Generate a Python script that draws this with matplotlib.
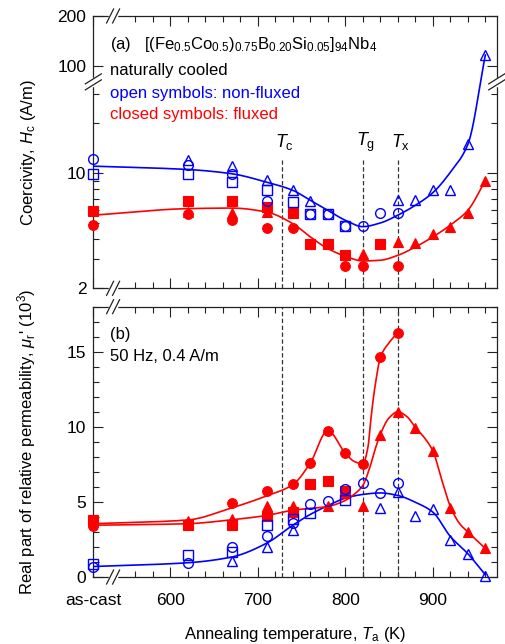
import numpy as np
import matplotlib
matplotlib.use('Agg')
import matplotlib.pyplot as plt
import matplotlib.transforms as mtransforms

plt.rcParams['font.family'] = ['Liberation Sans', 'DejaVu Sans']
plt.rcParams['mathtext.fontset'] = 'custom'
plt.rcParams['mathtext.rm'] = 'Liberation Sans'
plt.rcParams['mathtext.it'] = 'Liberation Sans:italic'
plt.rcParams['mathtext.bf'] = 'Liberation Sans:bold'

AS_CAST = 512   # position of the as-cast samples on the temperature axis

# ---------------- (a) coercivity Hc (A/m) ----------------
hc_nf_circ_x = [AS_CAST, 620, 670, 710, 760, 780, 800, 820, 840, 860]
hc_nf_circ_y = [12.2, 11.2, 9.8, 6.8, 5.67, 5.67, 4.76, 4.76, 5.73, 5.73]
hc_nf_sq_x = [AS_CAST, 620, 670, 710, 740, 760, 780, 800]
hc_nf_sq_y = [9.9, 9.8, 8.8, 7.85, 6.7, 5.67, 5.67, 4.76]
hc_nf_tri_x = [620, 670, 710, 740, 760, 860, 880, 900, 920, 940, 960]
hc_nf_tri_y = [12.05, 11.0, 9.1, 7.85, 6.77, 6.83, 6.83, 7.85, 7.85, 14.9, 116]

hc_f_sq_x = [AS_CAST, 620, 670, 710, 740, 760, 780, 800, 840]
hc_f_sq_y = [5.89, 6.74, 6.74, 6.22, 5.73, 3.7, 3.7, 3.2, 3.7]
hc_f_circ_x = [AS_CAST, 620, 670, 710, 740, 800, 820, 840, 860]
hc_f_circ_y = [4.83, 5.67, 5.17, 4.67, 4.67, 2.72, 2.72, 3.7, 2.72]
hc_f_tri_x = [620, 670, 710, 820, 860, 880, 900, 920, 940, 960]
hc_f_tri_y = [5.8, 5.73, 5.8, 3.25, 3.82, 3.75, 4.25, 4.73, 5.75, 9.0]

# guide curves (knots)
hc_nf_fit_x = [AS_CAST, 620, 670, 710, 740, 760, 780, 800, 820, 840, 860, 880, 900, 920, 940, 960]
hc_nf_fit_y = [11.0, 10.5, 9.9, 8.8, 7.85, 6.83, 5.94, 5.17, 4.73, 4.98, 5.55, 6.37, 7.6, 10.1, 14.9, 116]
hc_f_fit_x = [AS_CAST, 620, 670, 710, 740, 760, 780, 800, 820, 840, 860, 880, 900, 920, 940, 960]
hc_f_fit_y = [5.55, 6.08, 6.13, 5.8, 4.93, 4.1, 3.48, 3.13, 2.93, 2.96, 3.17, 3.56, 4.1, 4.83, 5.94, 9.0]

# ---------------- (b) permeability mu_r' (10^3) ----------------
mu_f_circ_x = [AS_CAST, 670, 710, 740, 760, 780, 800, 820, 840, 860]
mu_f_circ_y = [3.43, 4.9, 5.7, 6.2, 7.6, 9.75, 8.24, 7.53, 14.62, 16.28]
mu_f_tri_x = [620, 670, 710, 740, 780, 800, 820, 840, 860, 880, 900, 920, 940, 960]
mu_f_tri_y = [3.7, 3.88, 4.75, 4.7, 4.75, 5.6, 4.75, 9.48, 10.96, 9.9, 8.4, 4.6, 3.0, 1.9]
mu_f_sq_x = [AS_CAST, 620, 670, 710, 740, 760, 780, 800]
mu_f_sq_y = [3.8, 3.45, 3.45, 4.05, 4.3, 6.2, 6.42, 5.75]

mu_nf_circ_x = [AS_CAST, 620, 670, 710, 740, 760, 780, 800, 820, 840, 860]
mu_nf_circ_y = [0.67, 0.93, 2.0, 2.75, 3.6, 4.83, 5.05, 5.87, 6.27, 5.58, 6.29]
mu_nf_sq_x = [AS_CAST, 620, 670, 710, 740, 760, 800]
mu_nf_sq_y = [0.89, 1.44, 1.66, 3.45, 3.88, 4.25, 5.14]
mu_nf_tri_x = [670, 710, 740, 840, 860, 880, 900, 920, 940, 960]
mu_nf_tri_y = [1.1, 2.0, 3.1, 4.61, 5.65, 4.03, 4.54, 2.48, 1.55, 0.1]

mu_nf_fit_x = [AS_CAST, 620, 670, 710, 740, 760, 780, 800, 820, 840, 860, 880, 900, 920, 940, 960]
mu_nf_fit_y = [0.7, 0.95, 1.33, 2.25, 3.45, 4.17, 4.75, 5.25, 5.5, 5.6, 5.43, 4.98, 4.32, 2.7, 1.55, 0.15]
mu_f1_fit_x = [AS_CAST, 620, 670, 710, 740, 760, 780, 800, 810, 820, 826, 829, 832, 835, 840, 850, 860]
mu_f1_fit_y = [3.55, 3.8, 4.6, 5.4, 6.15, 7.6, 9.75, 8.24, 7.7, 7.53, 8.7, 10.4, 11.9, 13.1, 14.62, 15.6, 16.28]
mu_f2_fit_x = [AS_CAST, 620, 670, 710, 740, 780, 800, 810, 820, 828, 834, 840, 850, 860, 870, 880, 890, 900, 910, 920, 930, 940, 950, 960]
mu_f2_fit_y = [3.45, 3.55, 3.81, 4.1, 4.45, 4.7, 5.1, 5.5, 6.1, 7.3, 8.5, 9.5, 10.6, 11.0, 10.7, 9.97, 9.3, 8.4, 6.5, 4.7, 3.6, 3.0, 2.45, 1.9]

T_marks = [728, 820, 860]
T_names = [r'$T_{\rm c}$', r'$T_{\rm g}$', r'$T_{\rm x}$']

BLUE = '#0000ff'
RED = '#ff0000'

# broken log axis for Hc: the range LO..LO*10^S is cut out
LO, S, EPS = 35.6, 0.35, 0.002
LLO = np.log10(LO)


def fwd(v):
    lv = np.log10(np.clip(np.asarray(v, float), 1e-6, None))
    return np.where(lv <= LLO, lv,
                    np.where(lv <= LLO + S, LLO + EPS * (lv - LLO), lv - S * (1 - EPS)))


def inv(f):
    f = np.asarray(f, float)
    mid = LLO + np.clip((f - LLO) / EPS, 0, S)
    return 10 ** np.where(f <= LLO, f, np.where(f <= LLO + EPS * S, mid, f + S * (1 - EPS)))


def pchip(x, y, xn):
    x = np.asarray(x, float)
    y = np.asarray(y, float)
    h = np.diff(x)
    d = np.diff(y) / h
    m = np.zeros_like(y)
    for k in range(1, len(x) - 1):
        if d[k - 1] * d[k] > 0:
            w1 = 2 * h[k] + h[k - 1]
            w2 = h[k] + 2 * h[k - 1]
            m[k] = (w1 + w2) / (w1 / d[k - 1] + w2 / d[k])
    m[0] = d[0]
    m[-1] = d[-1]
    i = np.clip(np.searchsorted(x, xn) - 1, 0, len(h) - 1)
    t = (xn - x[i]) / h[i]
    return ((2 * t**3 - 3 * t**2 + 1) * y[i] + (t**3 - 2 * t**2 + t) * h[i] * m[i]
            + (-2 * t**3 + 3 * t**2) * y[i + 1] + (t**3 - t**2) * h[i] * m[i + 1])


FW, FH = 505, 644
fig = plt.figure(figsize=(FW / 100, FH / 100), dpi=100)
ax1 = fig.add_axes([0.1848, 0.5523, 0.7988, 0.4229])
ax2 = fig.add_axes([0.1848, 0.1040, 0.7988, 0.4198])


def brk_h(ax, xa, ya):
    pos = ax.get_position()
    W, H = pos.width * FW, pos.height * FH
    kw = dict(transform=ax.transAxes, clip_on=False, zorder=6)
    ax.plot([xa - 3 / W, xa + 3 / W], [ya, ya], color='white', lw=2.5, **kw)
    for s in (-3, 3):
        ax.plot([xa + (s - 3.5) / W, xa + (s + 3.5) / W], [ya - 7 / H, ya + 7 / H], color='#222222', lw=0.9, **kw)


def brk_v(ax, xa, ya):
    pos = ax.get_position()
    W, H = pos.width * FW, pos.height * FH
    kw = dict(transform=ax.transAxes, clip_on=False, zorder=6)
    ax.plot([xa, xa], [ya - 3 / H, ya + 3 / H], color='white', lw=2.5, **kw)
    for s in (-3, 3):
        ax.plot([xa - 8 / W, xa + 8 / W], [ya + (s - 5) / H, ya + (s + 5) / H], color='#222222', lw=0.9, **kw)


def style(ax):
    for sp in ax.spines.values():
        sp.set_linewidth(0.9)
        sp.set_color('#222222')
    ax.set_xlim(AS_CAST, 973)
    ax.set_xticks([AS_CAST, 600, 700, 800, 900])
    ax.set_xticks(np.arange(560, 961, 20), minor=True)
    ax.tick_params(which='both', direction='in', top=True, right=True, width=0.8, color='#222222')
    ax.tick_params(which='major', length=7, labelsize=12.5, pad=5)
    ax.tick_params(which='minor', length=4.3)
    ax.tick_params(axis='x', which='major', pad=11.5)


mk = dict(linestyle='none', clip_on=False, zorder=4)
opn = dict(mfc='none', mec=BLUE, mew=1.0, **mk)
cls = dict(mfc=RED, mec=RED, mew=0.8, **mk)

# ---------- panel (a) ----------
ax1.set_yscale('function', functions=(fwd, inv))
style(ax1)
ax1.set_ylim(2, 200)
ax1.set_yticks([2, 10, 100, 200])
ax1.set_yticklabels(['2', '10', '100', '200'])
ax1.set_yticks([3, 4, 5, 6, 7, 8, 9, 20, 30], minor=True)
ax1.yaxis.set_minor_formatter(plt.NullFormatter())
ax1.set_xticklabels([])

xs = np.linspace(AS_CAST, 960, 500)
ax1.plot(xs, inv(pchip(hc_nf_fit_x, fwd(hc_nf_fit_y), xs)), color=BLUE, lw=1.2, zorder=3)
ax1.plot(xs, inv(pchip(hc_f_fit_x, fwd(hc_f_fit_y), xs)), color=RED, lw=1.2, zorder=3)

ax1.plot(hc_f_sq_x, hc_f_sq_y, marker='s', ms=6.5, **cls)
ax1.plot(hc_f_circ_x, hc_f_circ_y, marker='o', ms=7, **cls)
ax1.plot(hc_f_tri_x, hc_f_tri_y, marker='^', ms=7.5, **cls)
ax1.plot(hc_nf_sq_x, hc_nf_sq_y, marker='s', ms=6.5, **opn)
ax1.plot(hc_nf_circ_x, hc_nf_circ_y, marker='o', ms=7, **opn)
ax1.plot(hc_nf_tri_x, hc_nf_tri_y, marker='^', ms=7.5, **opn)

trans1 = mtransforms.blended_transform_factory(ax1.transData, ax1.transAxes)
for t, name in zip(T_marks, T_names):
    ax1.axvline(t, ymax=0.47, color='#333333', lw=0.9, dashes=(3.5, 2), zorder=2)
    ax1.text(t + 3, 0.537, name, transform=trans1, ha='center', va='center', fontsize=13)

ax1.text(0.041, 0.878, r'(a)   [(Fe$_{0.5}$Co$_{0.5}$)$_{0.75}$B$_{0.20}$Si$_{0.05}$]$_{94}$Nb$_{4}$',
         transform=ax1.transAxes, fontsize=12, va='baseline')
ax1.text(0.041, 0.783, 'naturally cooled', transform=ax1.transAxes, fontsize=12, va='baseline')
ax1.text(0.041, 0.698, 'open symbols: non-fluxed', transform=ax1.transAxes, fontsize=12,
         va='baseline', color=BLUE)
ax1.text(0.041, 0.622, 'closed symbols: fluxed', transform=ax1.transAxes, fontsize=12,
         va='baseline', color=RED)
ax1.set_ylabel(r'Coercivity, $H_{\rm c}$ (A/m)', fontsize=12)
ax1.yaxis.set_label_coords(-0.138, 0.5)

brk_h(ax1, 0.049, 0.0)
brk_h(ax1, 0.049, 1.0)
brk_v(ax1, 0.0, 0.758)
brk_v(ax1, 1.0, 0.758)

# ---------- panel (b) ----------
style(ax2)
ax2.set_ylim(0, 18)
ax2.set_yticks([0, 5, 10, 15])
ax2.set_yticks(np.arange(0, 18.1, 1), minor=True)
ax2.set_xticklabels(['as-cast', '600', '700', '800', '900'])

ax2.plot(xs, pchip(mu_nf_fit_x, mu_nf_fit_y, xs), color=BLUE, lw=1.2, zorder=3)
xs1 = np.linspace(AS_CAST, 860, 500)
ax2.plot(xs1, pchip(mu_f1_fit_x, mu_f1_fit_y, xs1), color=RED, lw=1.2, zorder=3)
ax2.plot(xs, pchip(mu_f2_fit_x, mu_f2_fit_y, xs), color=RED, lw=1.2, zorder=3)

ax2.plot(mu_f_sq_x, mu_f_sq_y, marker='s', ms=6.5, **cls)
ax2.plot(mu_f_circ_x, mu_f_circ_y, marker='o', ms=7, **cls)
ax2.plot(mu_f_tri_x, mu_f_tri_y, marker='^', ms=7.5, **cls)
ax2.plot(mu_nf_sq_x, mu_nf_sq_y, marker='s', ms=6.5, **opn)
ax2.plot(mu_nf_circ_x, mu_nf_circ_y, marker='o', ms=7, **opn)
ax2.plot(mu_nf_tri_x, mu_nf_tri_y, marker='^', ms=7.5, **opn)

for t in T_marks:
    ax2.axvline(t, color='#333333', lw=0.9, dashes=(3.5, 2), zorder=2)

ax2.text(0.041, 0.879, '(b)', transform=ax2.transAxes, fontsize=12, va='baseline')
ax2.text(0.041, 0.799, '50 Hz, 0.4 A/m', transform=ax2.transAxes, fontsize=12, va='baseline')
ax2.set_ylabel(r"Real part of relative permeability, $\mu_{\rm r}$' (10$^{3}$)", fontsize=12)
ax2.yaxis.set_label_coords(-0.138, 0.5)
ax2.set_xlabel(r'Annealing temperature, $T_{\rm a}$ (K)', fontsize=12, labelpad=12)

brk_h(ax2, 0.049, 0.0)
brk_h(ax2, 0.049, 1.0)

fig.savefig('out.png', dpi=100)
